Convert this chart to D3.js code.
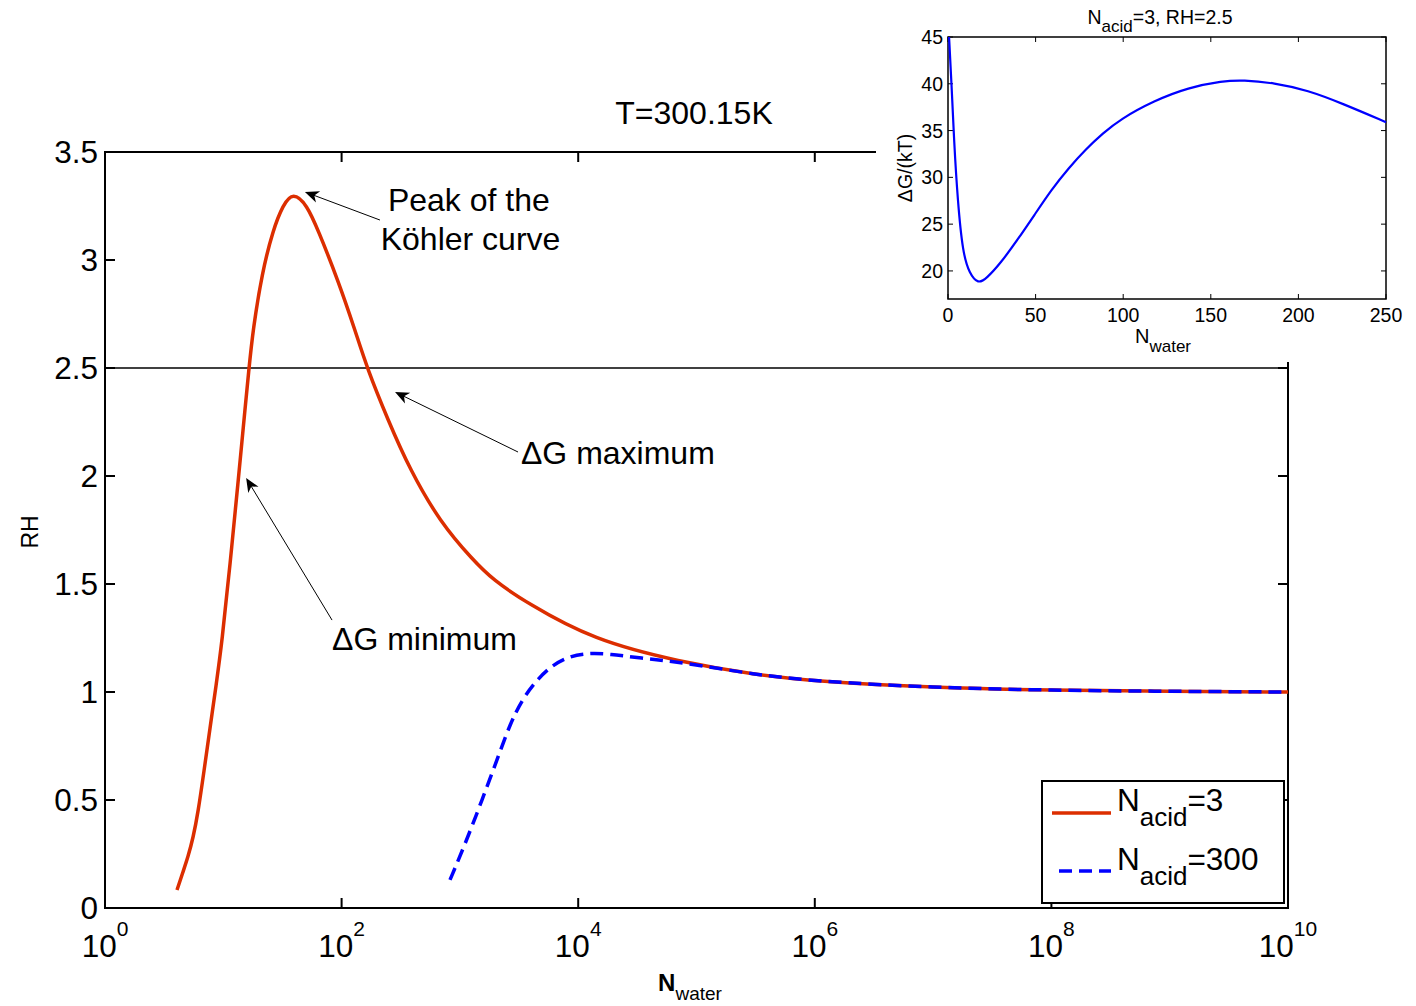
<!DOCTYPE html>
<html>
<head>
<meta charset="utf-8">
<script src="https://cdn.jsdelivr.net/npm/d3@7"></script>
<style>
  body { margin: 0; background: #fff; }
  text { font-family: "Liberation Sans", Arial, Helvetica, sans-serif; fill: #000; }
</style>
</head>
<body>
<svg id="chart" width="1416" height="1006"></svg>
<script>
// values
const redN = [4.06, 4.56, 5.03, 5.55, 6.11, 6.87, 7.72, 8.68, 9.75, 11.39, 13.44, 14.68, 16.49, 17.82, 21.24, 26.31, 31.97, 38.84, 51.0, 63.2, 93.2, 129.8, 163.9, 246.7, 378.7, 679, 1290, 1905, 3692, 13340, 72530, 316000, 1e6, 1e7, 1e8, 1e9, 1e10];
const redRH = [0.083, 0.167, 0.236, 0.324, 0.44, 0.634, 0.833, 1.028, 1.231, 1.588, 1.991, 2.213, 2.5, 2.676, 2.94, 3.139, 3.255, 3.315, 3.255, 3.139, 2.907, 2.676, 2.5, 2.259, 2.028, 1.787, 1.611, 1.519, 1.412, 1.241, 1.139, 1.08, 1.05, 1.02, 1.008, 1.003, 1.0];
const blueN = [824.6, 1126, 1538, 2059, 2651, 3349, 4313, 5776, 8042, 11868, 18570, 33300, 72530, 316000, 1e6, 1e7, 1e8, 1e9, 1e10];
const blueRH = [0.13, 0.306, 0.5, 0.685, 0.852, 0.963, 1.046, 1.116, 1.162, 1.181, 1.176, 1.157, 1.139, 1.08, 1.05, 1.02, 1.008, 1.003, 1.0];

const insetN = [0.6, 2, 3.5, 5.5, 8.4, 12.3, 17.2, 22, 29.9, 39.6, 49.4, 59.1, 68.9, 78.6, 88.4, 98.2, 117.7, 137.2, 156.7, 168.4, 186, 205.5, 225, 250];
const insetG = [45, 40.1, 33.7, 27.6, 21.9, 19.7, 18.6, 19.2, 20.8, 23.3, 26.0, 28.7, 31.0, 33.0, 34.7, 36.2, 38.2, 39.6, 40.3, 40.4, 40.1, 39.3, 37.9, 35.9];

const xTickExp = [0, 2, 4, 6, 8, 10];
const yTicks = [0, 0.5, 1, 1.5, 2, 2.5, 3, 3.5];
const yTickLabels = ['0', '0.5', '1', '1.5', '2', '2.5', '3', '3.5'];
const insetXTicks = [0, 50, 100, 150, 200, 250];
const insetYTicks = [20, 25, 30, 35, 40, 45];

const seriesNames = ['=3', '=300'];
const threshold = 2.5;

var svg = d3.select('#chart');

// main axes
var x = d3.scaleLog().domain([1, 1e10]).range([105, 1288]);
var y = d3.scaleLinear().domain([0, 3.5]).range([908, 152]);
var x0 = x.range()[0], x1 = x.range()[1], y0 = y.range()[0], y1 = y.range()[1];

var main = svg.append('g');

// ticks (inward, both sides)
xTickExp.forEach(function (e) {
  var px = x(Math.pow(10, e));
  main.append('line').attr('x1', px).attr('x2', px).attr('y1', y0).attr('y2', y0 - 10)
    .attr('stroke', '#000').attr('stroke-width', 2);
  main.append('line').attr('x1', px).attr('x2', px).attr('y1', y1).attr('y2', y1 + 10)
    .attr('stroke', '#000').attr('stroke-width', 2);
  var t = main.append('text').attr('x', px).attr('y', 957)
    .attr('text-anchor', 'middle').attr('font-size', 31.5);
  t.append('tspan').text('10');
  t.append('tspan').attr('dy', -21).attr('font-size', 21).text(e);
});
yTicks.forEach(function (v, i) {
  var py = y(v);
  main.append('line').attr('x1', x0).attr('x2', x0 + 10).attr('y1', py).attr('y2', py)
    .attr('stroke', '#000').attr('stroke-width', 2);
  main.append('line').attr('x1', x1).attr('x2', x1 - 10).attr('y1', py).attr('y2', py)
    .attr('stroke', '#000').attr('stroke-width', 2);
  main.append('text').attr('x', 98).attr('y', py + 11)
    .attr('text-anchor', 'end').attr('font-size', 31.5).text(yTickLabels[i]);
});

// frame
main.append('rect').attr('x', x0).attr('y', y1).attr('width', x1 - x0).attr('height', y0 - y1)
  .attr('fill', 'none').attr('stroke', '#000').attr('stroke-width', 2);

// RH = 2.5 line
main.append('line').attr('x1', x0).attr('x2', x1).attr('y1', y(threshold)).attr('y2', y(threshold))
  .attr('stroke', '#000').attr('stroke-width', 1.3);

var line = d3.line()
  .x(function (d) { return x(d[0]); })
  .y(function (d) { return y(d[1]); })
  .curve(d3.curveBasis);

main.append('path').datum(d3.zip(redN, redRH)).attr('d', line)
  .attr('fill', 'none').attr('stroke', '#dc2e00').attr('stroke-width', 3.5);
main.append('path').datum(d3.zip(blueN, blueRH)).attr('d', line)
  .attr('fill', 'none').attr('stroke', '#0000ff').attr('stroke-width', 3.5)
  .attr('stroke-dasharray', '13,7');

// title and labels
main.append('text').attr('x', 694).attr('y', 124).attr('text-anchor', 'middle')
  .attr('font-size', 32).text('T=300.15K');
main.append('text').attr('transform', 'translate(38,532) rotate(-90)')
  .attr('text-anchor', 'middle').attr('font-size', 23).text('RH');
var xl = main.append('text').attr('x', 690).attr('y', 991).attr('text-anchor', 'middle');
xl.append('tspan').attr('font-size', 24).attr('font-weight', 'bold').text('N');
xl.append('tspan').attr('font-size', 19).attr('dy', 9).text('water');

// annotations (anchored in data space)
const annotations = [
  { tip: [49, 3.315], tail: [211, 3.185] },
  { tip: [283, 2.389], tail: [3100, 2.111] },
  { tip: [15.6, 1.991], tail: [83, 1.333] }
];
const annoText = [
  { at: [1190, 3.227], anchor: 'middle', text: 'Peak of the' },
  { at: [1230, 3.046], anchor: 'middle', text: 'Köhler curve' },
  { at: [3283, 2.056], anchor: 'start', text: 'ΔG maximum' },
  { at: [83, 1.194], anchor: 'start', text: 'ΔG minimum' }
];
annotations.forEach(function (a) {
  var tx = x(a.tip[0]), ty = y(a.tip[1]), sx = x(a.tail[0]), sy = y(a.tail[1]);
  var ang = Math.atan2(ty - sy, tx - sx);
  main.append('line').attr('x1', sx).attr('y1', sy).attr('x2', tx - 8 * Math.cos(ang)).attr('y2', ty - 8 * Math.sin(ang))
    .attr('stroke', '#000').attr('stroke-width', 1);
  main.append('path')
    .attr('d', 'M0,0 L-14,-6 L-10,0 L-14,6 Z')
    .attr('transform', 'translate(' + tx + ',' + ty + ') rotate(' + (ang * 180 / Math.PI) + ')')
    .attr('fill', '#000');
});
annoText.forEach(function (t) {
  main.append('text').attr('x', x(t.at[0])).attr('y', y(t.at[1]))
    .attr('text-anchor', t.anchor).attr('font-size', 32).text(t.text);
});

// legend
var lg = main.append('g');
lg.append('rect').attr('x', 1042).attr('y', 781).attr('width', 242).attr('height', 122)
  .attr('fill', '#fff').attr('stroke', '#000').attr('stroke-width', 2);
lg.append('line').attr('x1', 1052).attr('x2', 1111).attr('y1', 813).attr('y2', 813)
  .attr('stroke', '#dc2e00').attr('stroke-width', 3.5);
lg.append('line').attr('x1', 1059).attr('x2', 1111).attr('y1', 871).attr('y2', 871)
  .attr('stroke', '#0000ff').attr('stroke-width', 3.5).attr('stroke-dasharray', '13,7');
seriesNames.forEach(function (s, i) {
  var t = lg.append('text').attr('x', 1117).attr('y', 811 + i * 59).attr('font-size', 31.5);
  t.append('tspan').text('N');
  t.append('tspan').attr('dy', 15).attr('font-size', 26).text('acid');
  t.append('tspan').attr('dy', -15).text(s);
});

// inset
svg.append('rect').attr('x', 876).attr('y', 0).attr('width', 540).attr('height', 362).attr('fill', '#fff');
var ix = d3.scaleLinear().domain([0, 250]).range([948, 1386]);
var iy = d3.scaleLinear().domain([17, 45]).range([299, 37]);
var inset = svg.append('g');
insetXTicks.forEach(function (v) {
  var px = ix(v);
  inset.append('line').attr('x1', px).attr('x2', px).attr('y1', 299).attr('y2', 294).attr('stroke', '#000');
  inset.append('line').attr('x1', px).attr('x2', px).attr('y1', 37).attr('y2', 42).attr('stroke', '#000');
  inset.append('text').attr('x', px).attr('y', 322).attr('text-anchor', 'middle').attr('font-size', 19.5).text(v);
});
insetYTicks.forEach(function (v) {
  var py = iy(v);
  inset.append('line').attr('x1', 948).attr('x2', 953).attr('y1', py).attr('y2', py).attr('stroke', '#000');
  inset.append('line').attr('x1', 1386).attr('x2', 1381).attr('y1', py).attr('y2', py).attr('stroke', '#000');
  inset.append('text').attr('x', 943).attr('y', py + 7).attr('text-anchor', 'end').attr('font-size', 19.5).text(v);
});
inset.append('rect').attr('x', 948).attr('y', 37).attr('width', 438).attr('height', 262)
  .attr('fill', 'none').attr('stroke', '#000').attr('stroke-width', 1.5);
var iline = d3.line()
  .x(function (d) { return ix(d[0]); })
  .y(function (d) { return iy(d[1]); })
  .curve(d3.curveBasis);
inset.append('path').datum(d3.zip(insetN, insetG)).attr('d', iline)
  .attr('fill', 'none').attr('stroke', '#0000ff').attr('stroke-width', 2.2);

var it = inset.append('text').attr('x', 1160).attr('y', 24).attr('text-anchor', 'middle').attr('font-size', 19.5);
it.append('tspan').text('N');
it.append('tspan').attr('dy', 8).attr('font-size', 17).text('acid');
it.append('tspan').attr('dy', -8).text('=3, RH=2.5');
inset.append('text').attr('transform', 'translate(912,168) rotate(-90)')
  .attr('text-anchor', 'middle').attr('font-size', 19.5).text('ΔG/(kT)');
var ixl = inset.append('text').attr('x', 1163).attr('y', 343).attr('text-anchor', 'middle');
ixl.append('tspan').attr('font-size', 20).text('N');
ixl.append('tspan').attr('font-size', 17).attr('dy', 9).text('water');
</script>
</body>
</html>
